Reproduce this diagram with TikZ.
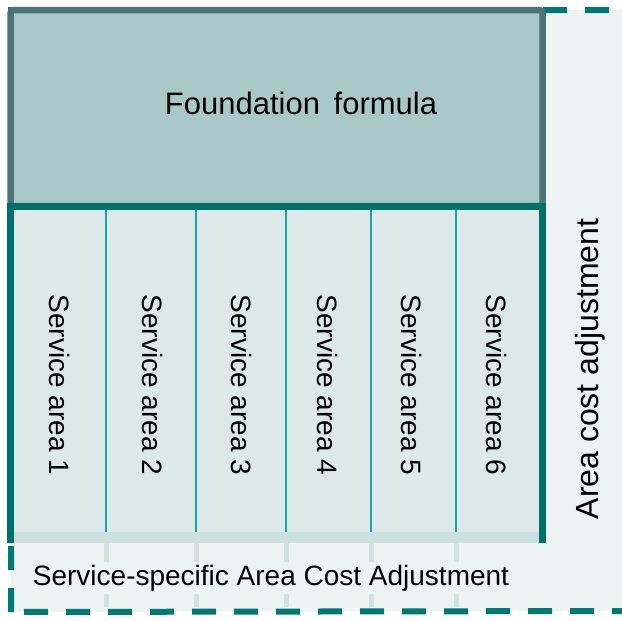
\documentclass[tikz,border=0pt]{standalone}
\usepackage{fontspec}
\setmainfont{Liberation Sans}
\definecolor{fndfill}{HTML}{A9C9C8}
\definecolor{fndborder}{HTML}{4B7472}
\definecolor{svcfill}{HTML}{DCE9E8}
\definecolor{svcborder}{HTML}{00706C}
\definecolor{divcol}{HTML}{1AA39E}
\definecolor{outerfill}{HTML}{EDF3F3}
\definecolor{dashcol}{HTML}{007873}
\definecolor{bandcol}{HTML}{CCDFDF}
\definecolor{faintcol}{HTML}{D2E2E2}
\tikzset{
  svctext/.style={rotate=-90, font=\fontsize{28}{32}\selectfont, inner sep=0pt},
  divider/.style={draw=divcol, line width=2pt},
  faintline/.style={draw=faintcol, line width=5pt},
}
\begin{document}
\begin{tikzpicture}[x=1pt,y=-1pt]
\useasboundingbox (0,0) rectangle (622,621);
\clip (0,0) rectangle (622,621);
\fill[white] (0,0) rectangle (622,621);
% outer dashed area
\draw[dashcol, line width=6pt, dash pattern=on 24pt off 18pt, fill=outerfill] (11,612) -- (11,10) -- (625,10) -- (625,611) -- cycle;
% lower strip
\fill[bandcol] (14,532) rectangle (539,543);
\foreach \x in {106,196,286,371,456} {\draw[faintline] (\x,543) -- (\x,607);}
% foundation
\draw[fndborder, line width=6.5pt, fill=fndfill, rounded corners=3pt] (10.5,10) rectangle (542.5,206);
% service box
\fill[svcfill] (14,209) rectangle (539,532);
\foreach \x in {106,196,286,371,456} {\draw[divider] (\x,209) -- (\x,532);}
\draw[svcborder, line width=7pt] (10.5,543) -- (10.5,206) -- (542.5,206) -- (542.5,543);
% texts
\node[font=\fontsize{31}{35}\selectfont] (fnd) at (301,103) {Foundation\hspace{5pt} formula};
\node[svctext] (s1) at (60,385) {Service area 1};
\node[svctext] (s2) at (153,385) {Service area 2};
\node[svctext] (s3) at (242,385) {Service area 3};
\node[svctext] (s4) at (328,385) {Service area 4};
\node[svctext] (s5) at (412,385) {Service area 5};
\node[svctext] (s6) at (497,385) {Service area 6};
\node[rotate=90, font=\fontsize{32}{36}\selectfont, inner sep=0pt] (aca) at (590,369) {Area cost adjustment};
\node[fill=outerfill, font=\fontsize{28}{32}\selectfont, inner sep=3pt] (ssaca) at (271,578) {Service-specific Area Cost Adjustment};
\end{tikzpicture}
\end{document}
